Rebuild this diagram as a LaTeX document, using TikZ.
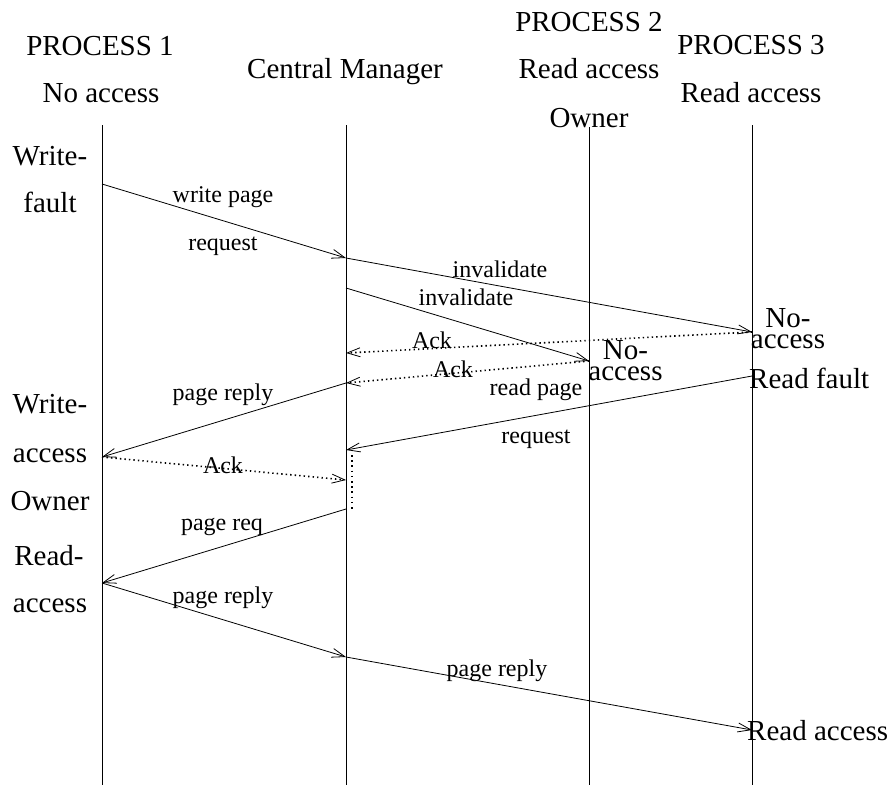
\documentclass[tikz,border=0pt]{standalone}
\usepackage{fontspec}
\setmainfont{Liberation Serif}
\usetikzlibrary{arrows.meta}
\begin{document}
\begin{tikzpicture}[x=1pt,y=-1pt,
  big/.style={font=\fontsize{29}{29}\selectfont, inner sep=0pt, anchor=base},
  tight/.style={font=\fontsize{29}{21}\selectfont, inner sep=0pt, anchor=base, align=center},
  small/.style={font=\fontsize{24}{24}\selectfont, inner sep=0pt, anchor=base},
  life/.style={line width=0.8pt},
  msg/.style={line width=0.8pt, -{Straight Barb[length=13pt,width=9pt,line width=0.8pt]}},
  ackmsg/.style={msg, line width=1.6pt, dash pattern=on 1.4pt off 3.1pt},
  dotline/.style={line width=1.7pt, dash pattern=on 1.6pt off 3.6pt},
]
\useasboundingbox (0,0) rectangle (892,785);

% headers
\node[big] (p1name)  at (100,55)  {PROCESS 1};
\node[big] (p1state) at (101,102) {No access};
\node[big] (cmname)  at (345,78)  {Central Manager};
\node[big] (p2name)  at (589,31)  {PROCESS 2};
\node[big] (p2state) at (589,78)  {Read access};
\node[big] (p2owner) at (589,127) {Owner};
\node[big] (p3name)  at (751,54)  {PROCESS 3};
\node[big] (p3state) at (751,102) {Read access};

% lifelines
\coordinate (l1t) at (102,125); \coordinate (l1b) at (102,785);
\coordinate (l2t) at (346,125); \coordinate (l2b) at (346,785);
\coordinate (l3t) at (589,127); \coordinate (l3b) at (589,785);
\coordinate (l4t) at (752,125); \coordinate (l4b) at (752,785);
\draw[life] (l1t) -- (l1b);
\draw[life] (l2t) -- (l2b);
\draw[life] (l3t) -- (l3b);
\draw[life] (l4t) -- (l4b);

% left labels
\node[big] (wf1) at (50,165) {Write-};
\node[big] (wf2) at (50,212) {fault};
\node[big] (wa1) at (50,413) {Write-};
\node[big] (wa2) at (50,462) {access};
\node[big] (wa3) at (50,510) {Owner};
\node[big] (ra1) at (49,565) {Read-};
\node[big] (ra2) at (50,612) {access};

% state labels at P2 / P3
\node[tight] (n3) at (788,348) {No-\\access};
\node[tight] (n2) at (625.5,380) {No-\\access};
\node[big, anchor=base west] (rf) at (749,388) {Read fault};
\node[big, anchor=base west] (rac) at (747,740) {Read access};

% event points
\coordinate (a1) at (102,184);
\coordinate (a2) at (346,258);
\coordinate (b3) at (752,332);
\coordinate (c2) at (346,288);
\coordinate (c3) at (589,361);
\coordinate (d2) at (346,353);
\coordinate (e2) at (346,383);
\coordinate (f1) at (102,457);
\coordinate (g3) at (752,376);
\coordinate (g2) at (346,450);
\coordinate (h2) at (346,480);
\coordinate (v1) at (352,455);
\coordinate (v2) at (352,510);
\coordinate (i2) at (346,509);
\coordinate (j1) at (102,583);
\coordinate (k2) at (346,657);
\coordinate (m3) at (752,730);

% messages
\draw[msg] (a1) -- (a2);
\draw[msg] (a2) -- (b3);
\draw[msg] (c2) -- (c3);
\draw[ackmsg] (b3) -- (d2);
\draw[ackmsg] (c3) -- (e2);
\draw[msg] (e2) -- (f1);
\draw[msg] (g3) -- (g2);
\draw[ackmsg] (f1) -- (h2);
\draw[dotline] (v1) -- (v2);
\draw[msg] (i2) -- (j1);
\draw[msg] (j1) -- (k2);
\draw[msg] (k2) -- (m3);

% message labels
\node[small] (t1) at (223,202) {write page};
\node[small] (t2) at (223,250) {request};
\node[small] (t3) at (500,277) {invalidate};
\node[small] (t4) at (466,305) {invalidate};
\node[small] (t5) at (432,348) {Ack};
\node[small] (t6) at (453,377) {Ack};
\node[small] (t7) at (223,400) {page reply};
\node[small] (t8) at (536,395) {read page};
\node[small] (t9) at (536,443) {request};
\node[small] (t10) at (223,473) {Ack};
\node[small] (t11) at (222,530) {page req};
\node[small] (t12) at (223,603) {page reply};
\node[small] (t13) at (497,676) {page reply};
\end{tikzpicture}
\end{document}
